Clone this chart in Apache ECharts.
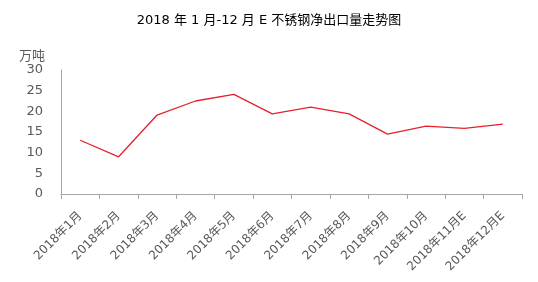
<!DOCTYPE html>
<html><head><meta charset="utf-8">
<script src="https://cdn.jsdelivr.net/npm/echarts@6/dist/echarts.min.js"></script>
<style>html,body{margin:0;padding:0;background:#fff}#c{width:538px;height:282px}</style>
</head><body><div id="c"></div>
<script>
const categories = ['2018年1月','2018年2月','2018年3月','2018年4月','2018年5月','2018年6月','2018年7月','2018年8月','2018年9月','2018年10月','2018年11月E','2018年12月E'];
const netExports = [13.0, 9.0, 19.1, 22.5, 24.1, 19.4, 21.0, 19.4, 14.5, 16.4, 15.9, 16.9];
const yTicks = [0, 5, 10, 15, 20, 25, 30];

const chart = echarts.init(document.getElementById('c'), null, {renderer:'canvas'});
const font = '"DejaVu Sans", "Noto Sans CJK SC", sans-serif';
chart.setOption({
  animation:false,
  title:{text:'2018 年 1 月-12 月 E 不锈钢净出口量走势图', left:'center', top:9,
    textStyle:{fontSize:13, fontWeight:'normal', color:'#000', fontFamily:font}},
  grid:{left:61, right:16, top:70, bottom:88},
  xAxis:{type:'category', data:categories, boundaryGap:true,
    axisLine:{lineStyle:{color:'#a6a6a6'}},
    axisTick:{show:true, lineStyle:{color:'#a6a6a6'}, length:5},
    axisLabel:{rotate:45, interval:0, color:'#595959', fontSize:12, fontFamily:font, margin:20}},
  yAxis:{type:'value', min:yTicks[0], max:yTicks[yTicks.length-1], interval:5,
    name:'万吨', nameLocation:'end', nameGap:6,
    nameTextStyle:{color:'#595959', fontSize:13, fontFamily:font, align:'right', padding:[0,16,0,0]},
    axisLine:{show:true, lineStyle:{color:'#a6a6a6'}},
    axisTick:{show:false}, splitLine:{show:false},
    axisLabel:{color:'#595959', fontSize:13, fontFamily:font, margin:18}},
  series:[{type:'line', data:netExports, symbol:'none',
    lineStyle:{color:'#e6212e', width:1.3}}]
});
</script></body></html>
